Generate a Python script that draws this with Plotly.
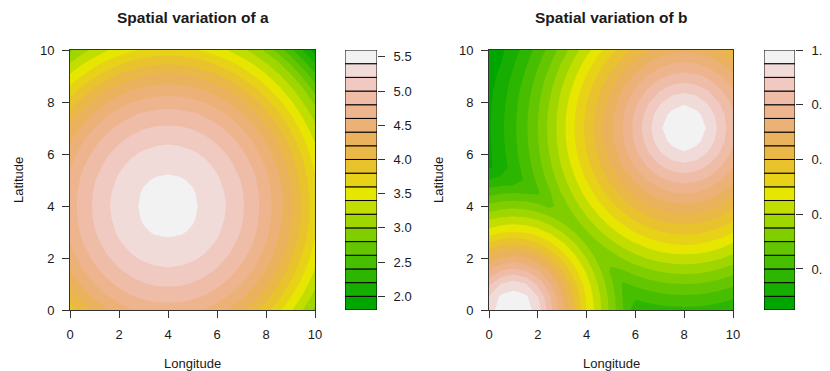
import colorsys
import numpy as np
import plotly.graph_objects as go

# ---------------- data ----------------
# grid of the field (longitude / latitude)
lon = np.linspace(0, 10, 21)
lat = np.linspace(0, 10, 21)

# field a: one peak, value as a function of distance from the peak
a_peak = (4.0, 4.0)
a_dist = [0, 1.32, 2.4, 3.12, 3.76, 4.3, 4.9, 5.45, 6.12, 6.47, 6.8, 7.15, 8.49]
a_value = [5.5, 5.4, 5.2, 5.0, 4.8, 4.58, 4.3, 4.0, 3.6, 3.4, 3.2, 3.0, 1.9]

# field b: the larger of two peaks
b_peak1 = (1.0, 0.0)
b1_dist = [0, 0.9, 3.0, 3.3, 3.6, 3.9, 4.2, 4.5, 4.8, 5.1, 5.4, 6.5, 10.5]
b1_value = [1.0, 0.95, 0.5, 0.45, 0.4, 0.35, 0.3, 0.25, 0.2, 0.15, 0.1, 0.05, 0.02]
b_peak2 = (8.0, 7.0)
b2_dist = [0, 0.95, 4.5, 4.85, 5.25, 5.62, 6.0, 6.42, 6.88, 7.38, 7.9, 8.6, 11.0]
b2_value = [1.0, 0.95, 0.5, 0.45, 0.4, 0.35, 0.3, 0.25, 0.2, 0.15, 0.1, 0.06, 0.03]

# contour levels and key ticks
a_levels = dict(start=1.8, end=5.6, size=0.2)
b_levels = dict(start=0.05, end=1.0, size=0.05)
a_keyticks = [2.0, 2.5, 3.0, 3.5, 4.0, 4.5, 5.0, 5.5]
b_keyticks = [0.2, 0.4, 0.6, 0.8, 1.0]

# ---------------- build grids ----------------
X, Y = np.meshgrid(lon, lat)
ra = np.hypot(X - a_peak[0], Y - a_peak[1])
za = np.interp(ra, a_dist, a_value)
r1 = np.hypot(X - b_peak1[0], Y - b_peak1[1])
r2 = np.hypot(X - b_peak2[0], Y - b_peak2[1])
zb = np.maximum(np.interp(r1, b1_dist, b1_value), np.interp(r2, b2_dist, b2_value))


# ---------------- R terrain.colors ----------------
def terrain_colors(n):
    k = n // 2
    h = [4 / 12, 2 / 12, 0]
    s = [1, 1, 0]
    v = [0.65, 0.9, 0.95]
    out = []
    hs = np.linspace(h[0], h[1], k); ss = np.linspace(s[0], s[1], k); vs = np.linspace(v[0], v[1], k)
    for a, b, c in zip(hs, ss, vs):
        out.append(colorsys.hsv_to_rgb(a, b, c))
    m = n - k + 1
    hs = np.linspace(h[1], h[2], m)[1:]; ss = np.linspace(s[1], s[2], m)[1:]; vs = np.linspace(v[1], v[2], m)[1:]
    for a, b, c in zip(hs, ss, vs):
        out.append(colorsys.hsv_to_rgb(a, b, c))
    return ["rgb(%d,%d,%d)" % tuple(round(x * 255) for x in col) for col in out]


def level_list(lv):
    n = int(round((lv["end"] - lv["start"]) / lv["size"]))
    return [lv["start"] + i * lv["size"] for i in range(n + 1)]


def stepped_scale(cols):
    # plotly samples fills at s = i/nc, i = 0..nc (nc = number of levels)
    nb = len(cols)
    nc = nb + 1
    slots = [cols[0]] + cols + [cols[-1]]
    scale = []
    for i, c in enumerate(slots):
        lo = max(0.0, (i - 0.5) / nc)
        hi = min(1.0, (i + 0.5) / nc)
        scale.append([lo, c])
        scale.append([hi, c])
    return scale


a_lv = level_list(a_levels)
b_lv = level_list(b_levels)
a_cols = terrain_colors(len(a_lv) - 1)
b_cols = terrain_colors(len(b_lv) - 1)

W, H = 830, 371
TXT = "#1a1a1a"
LINE = "#333333"
FONT = "Liberation Sans, Arial, Helvetica, sans-serif"


def px_x(p):
    return p / W


def px_y(p):
    return 1 - p / H


fig = go.Figure()

fig.add_trace(go.Contour(
    x=lon, y=lat, z=za, autocontour=False,
    contours=dict(start=a_levels["start"], end=a_levels["end"], size=a_levels["size"],
                  coloring="fill", showlines=False),
    line=dict(width=0, smoothing=0), colorscale=stepped_scale(a_cols),
    showscale=False, hoverinfo="skip", xaxis="x", yaxis="y"))

fig.add_trace(go.Bar(
    x=[0] * (len(a_lv) - 1), y=[a_levels["size"]] * (len(a_lv) - 1), base=a_lv[:-1], width=1,
    marker=dict(color=a_cols, line=dict(color="black", width=1)),
    hoverinfo="skip", showlegend=False, xaxis="x2", yaxis="y2"))

fig.add_trace(go.Contour(
    x=lon, y=lat, z=zb, autocontour=False,
    contours=dict(start=b_levels["start"], end=b_levels["end"], size=b_levels["size"],
                  coloring="fill", showlines=False),
    line=dict(width=0, smoothing=0), colorscale=stepped_scale(b_cols),
    showscale=False, hoverinfo="skip", xaxis="x3", yaxis="y3"))

fig.add_trace(go.Bar(
    x=[0] * (len(b_lv) - 1), y=[b_levels["size"]] * (len(b_lv) - 1), base=b_lv[:-1], width=1,
    marker=dict(color=b_cols, line=dict(color="black", width=1)),
    hoverinfo="skip", showlegend=False, xaxis="x4", yaxis="y4"))

ydom = [px_y(310), px_y(50)]
main_axis = dict(range=[0, 10], tickvals=[0, 2, 4, 6, 8, 10], ticks="outside", ticklen=7,
                 tickcolor=LINE, showline=True, mirror=True, linecolor=LINE, linewidth=1,
                 showgrid=False, zeroline=False, tickfont=dict(family=FONT, size=13, color=TXT),
                 ticklabelstandoff=5, automargin=False)
key_x = dict(range=[-0.5, 0.5], visible=False, fixedrange=True, automargin=False)


def key_y(lv, ticks, anchor):
    return dict(domain=ydom, range=[lv["start"], lv["end"]], anchor=anchor, side="right",
                tickvals=ticks, ticktext=["%.1f" % t for t in ticks], ticks="outside",
                ticklen=7, tickcolor=LINE, showline=False, showgrid=False, zeroline=False,
                tickfont=dict(family=FONT, size=13, color=TXT), ticklabelstandoff=6,
                automargin=False)


fig.update_layout(
    template="none",
    width=W, height=H, autosize=False,
    margin=dict(l=0, r=0, t=0, b=0, autoexpand=False),
    paper_bgcolor="white", plot_bgcolor="white",
    showlegend=False, barmode="overlay",
    xaxis=dict(domain=[px_x(70), px_x(315)], anchor="y", **main_axis),
    yaxis=dict(domain=ydom, anchor="x", **main_axis),
    xaxis2=dict(domain=[px_x(345), px_x(377)], anchor="y2", **key_x),
    yaxis2=key_y(a_levels, a_keyticks, "x2"),
    xaxis3=dict(domain=[px_x(489), px_x(733)], anchor="y3", **main_axis),
    yaxis3=dict(domain=ydom, anchor="x3", **main_axis),
    xaxis4=dict(domain=[px_x(764), px_x(795)], anchor="y4", **key_x),
    yaxis4=key_y(b_levels, b_keyticks, "x4"),
    # the original device clips the right key labels at its edge
    shapes=[dict(type="rect", xref="paper", yref="paper", x0=px_x(822), x1=1.0, y0=0, y1=1,
                 fillcolor="white", line=dict(width=0), layer="above")],
)

annots = []
for cx, ttl, lab_x in [((70 + 315) / 2, "Spatial variation of a", 18),
                       ((489 + 733) / 2, "Spatial variation of b", 438)]:
    annots.append(dict(x=px_x(cx), y=px_y(18), xref="paper", yref="paper", text="<b>%s</b>" % ttl,
                       showarrow=False, font=dict(family=FONT, size=15.5, color=TXT),
                       xanchor="center", yanchor="middle"))
    annots.append(dict(x=px_x(cx), y=px_y(363), xref="paper", yref="paper", text="Longitude",
                       showarrow=False, font=dict(family=FONT, size=13, color=TXT),
                       xanchor="center", yanchor="middle"))
    annots.append(dict(x=px_x(lab_x), y=px_y(180), xref="paper", yref="paper", text="Latitude",
                       showarrow=False, textangle=-90, font=dict(family=FONT, size=13, color=TXT),
                       xanchor="center", yanchor="middle"))
fig.update_layout(annotations=annots)

post = (
    "document.documentElement.style.margin='0';"
    "document.documentElement.style.overflow='hidden';"
    "document.body.style.margin='0';"
    "document.body.style.overflow='hidden';"
    "var gd=document.querySelector('.plotly-graph-div');"
    "gd.style.position='fixed';gd.style.left='0px';gd.style.top='0px';"
)
fig.write_html("out.html", config={"displayModeBar": False, "staticPlot": True}, post_script=post)
